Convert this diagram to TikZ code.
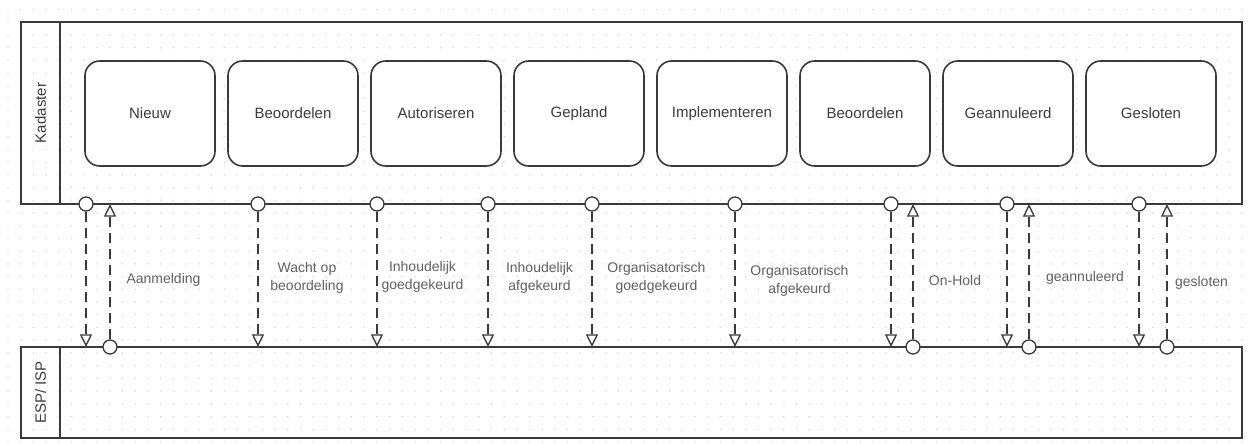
\documentclass[tikz,border=0pt]{standalone}
\usepackage{fontspec}
\setmainfont{Liberation Sans}
\usetikzlibrary{arrows.meta}
\definecolor{strokegray}{HTML}{3A3A3A}
\definecolor{boxtext}{HTML}{3C3C3C}
\definecolor{labeltext}{HTML}{616161}
\definecolor{griddot}{HTML}{CFCFCF}
\tikzset{
  pool/.style={draw=strokegray, line width=1.2pt},
  state/.style={draw=strokegray, line width=1.2pt, fill=white, rounded corners=11pt,
    minimum width=97.5pt, minimum height=78.75pt, inner sep=0pt,
    text=boxtext, font=\fontsize{11.25pt}{13.5pt}\selectfont},
  lanetitle/.style={rotate=90, text=boxtext, font=\fontsize{11.25pt}{13.5pt}\selectfont},
  msgstart/.style={circle, draw=strokegray, line width=1pt, fill=white,
    minimum size=10.5pt, inner sep=0pt},
  msgflow/.style={draw=strokegray, line width=1.1pt, dash pattern=on 8pt off 4pt,
    -{Triangle[open, length=9.5pt, width=9pt, line width=1pt]}},
  flowlabel/.style={align=center, text=labeltext, inner sep=0pt,
    font=\fontsize{10.5pt}{13.5pt}\selectfont}
}
\begin{document}
\begin{tikzpicture}[x=0.75pt, y=-0.75pt]
\useasboundingbox (0,0) rectangle (1252,443);
\fill[white] (0,0) rectangle (1252,443);

% dotted background grid
\foreach \gx in {0,...,97} {
  \foreach \gy in {0,...,34} {
    \fill[griddot] (8+12.72*\gx, 9.5+12.72*\gy) circle (0.55pt);
  }
}

% pools with vertical header strips
\draw[pool] (21,22) rectangle (1242,204);
\draw[pool] (60,22) -- (60,204);
\draw[pool] (21,347) rectangle (1242,438);
\draw[pool] (60,347) -- (60,438);
\node[lanetitle] (kadaster) at (40.5,113) {Kadaster};
\node[lanetitle] (esp) at (40.5,392.5) {ESP/ ISP};

% states
\node[state] (st1) at (150,113.5) {Nieuw};
\node[state] (st2) at (293,113.5) {Beoordelen};
\node[state] (st3) at (436,113.5) {Autoriseren};
\node[state] (st4) at (579,113.5) {Gepland};
\node[state] (st5) at (722,113.5) {Implementeren};
\node[state] (st6) at (865,113.5) {Beoordelen};
\node[state] (st7) at (1008,113.5) {Geannuleerd};
\node[state] (st8) at (1151,113.5) {Gesloten};

% message flows from Kadaster down to ESP/ISP
\foreach \n/\fx in {d1/86, d2/258, d3/377, d4/488, d5/592, d6/735, d7/891, d8/1007, d9/1139} {
  \coordinate (\n end) at (\fx,347);
  \node[msgstart] (\n start) at (\fx,204) {};
  \draw[msgflow] (\n start) -- (\n end);
}

% message flows from ESP/ISP up to Kadaster
\foreach \n/\fx in {u1/110, u2/913, u3/1029, u4/1167} {
  \coordinate (\n end) at (\fx,204);
  \node[msgstart] (\n start) at (\fx,347) {};
  \draw[msgflow] (\n start) -- (\n end);
}

% flow labels
\node[flowlabel] (l1) at (163.5,280) {Aanmelding};
\node[flowlabel] (l2) at (307,278) {Wacht op\\beoordeling};
\node[flowlabel] (l3) at (422.5,277) {Inhoudelijk\\goedgekeurd};
\node[flowlabel] (l4) at (539.5,278) {Inhoudelijk\\afgekeurd};
\node[flowlabel] (l5) at (656.5,278) {Organisatorisch\\goedgekeurd};
\node[flowlabel] (l6) at (799.5,281) {Organisatorisch\\afgekeurd};
\node[flowlabel] (l7) at (955,280) {On-Hold};
\node[flowlabel] (l8) at (1085,278) {geannuleerd};
\node[flowlabel] (l9) at (1201.5,283) {gesloten};
\end{tikzpicture}
\end{document}
